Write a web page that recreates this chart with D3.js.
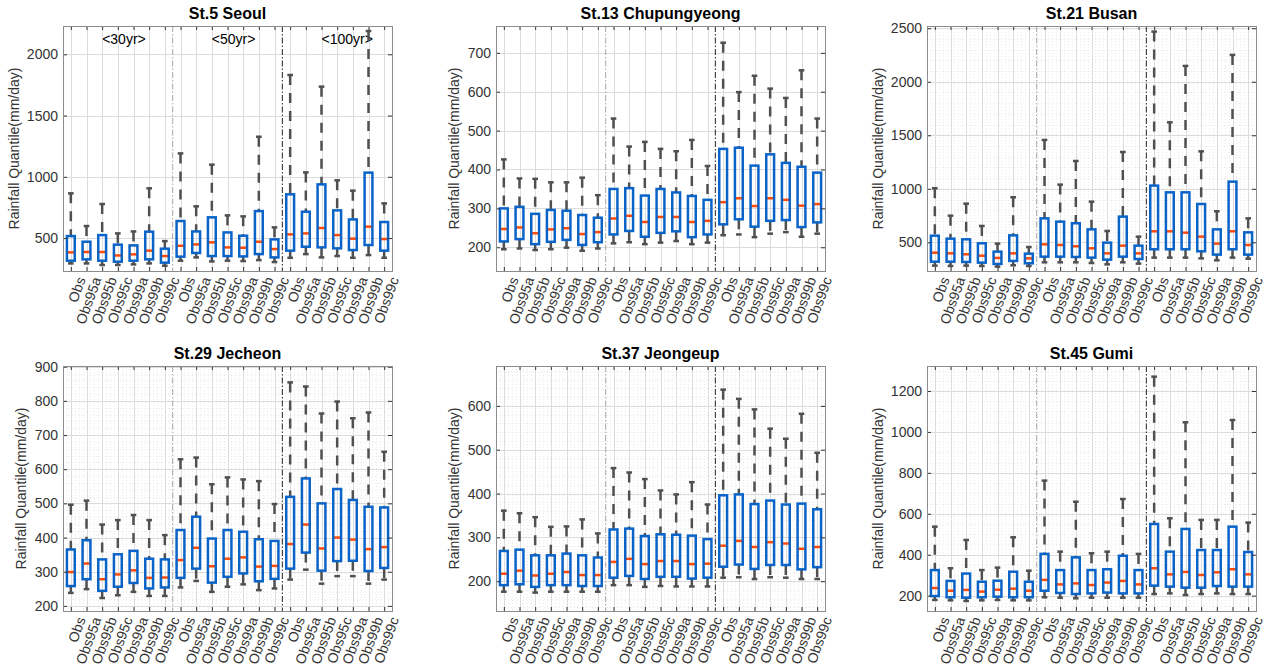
<!DOCTYPE html>
<html>
<head>
<meta charset="utf-8">
<script src="https://cdn.jsdelivr.net/npm/d3@7"></script>
<style>
  body { margin: 0; background: #fff; }
  svg { display: block; }
  text { font-family: "Liberation Sans", Arial, Helvetica, sans-serif; }
</style>
</head>
<body>
<svg id="chart" width="1266" height="670"></svg>
<script>
// Scenario labels (repeated for each return period) and return periods
const categories = ["Obs", "Obs95a", "Obs95b", "Obs95c", "Obs99a", "Obs99b", "Obs99c"];
const periods = ["<30yr>", "<50yr>", "<100yr>"];
const yLabel = "Rainfall Quantile(mm/day)";

// St.5 Seoul: lower whisker, Q1, median, Q3, upper whisker
const seoulLow  = [293, 293, 280, 280, 285, 293, 274, 315, 342, 309, 315, 312, 320, 304, 339, 369, 342, 353, 339, 361, 339];
const seoulQ1   = [315, 326, 315, 307, 315, 326, 299, 348, 378, 353, 353, 350, 369, 342, 397, 429, 424, 416, 402, 443, 397];
const seoulMed  = [383, 386, 386, 358, 367, 397, 353, 437, 448, 465, 424, 421, 470, 410, 530, 538, 582, 524, 495, 593, 492];
const seoulQ3   = [516, 470, 524, 446, 440, 552, 413, 639, 554, 669, 546, 519, 720, 489, 857, 715, 938, 726, 652, 1034, 631];
const seoulHigh = [865, 598, 778, 538, 554, 906, 475, 1191, 759, 1099, 685, 677, 1327, 587, 1831, 1036, 1736, 971, 887, 2190, 783];
const seoulTicks = [500, 1000, 1500, 2000];

// St.13 Chupungyeong
const chuLow  = [195, 197, 193, 195, 199, 191, 197, 210, 213, 208, 212, 216, 208, 212, 231, 233, 226, 235, 239, 227, 235];
const chuQ1   = [215, 221, 208, 214, 219, 206, 213, 233, 242, 227, 237, 241, 226, 233, 259, 272, 253, 268, 270, 252, 264];
const chuMed  = [247, 251, 236, 246, 249, 234, 239, 274, 281, 265, 278, 278, 265, 268, 316, 326, 306, 326, 322, 307, 311];
const chuQ3   = [300, 304, 286, 296, 294, 283, 276, 350, 352, 333, 350, 341, 332, 322, 453, 456, 410, 439, 417, 407, 392];
const chuHigh = [426, 377, 376, 367, 367, 379, 334, 531, 459, 471, 453, 447, 476, 409, 726, 599, 641, 608, 584, 655, 531];
const chuTicks = [200, 300, 400, 500, 600, 700];

// St.21 Busan
const busanLow  = [282, 279, 282, 279, 273, 285, 279, 313, 313, 313, 307, 294, 313, 301, 357, 357, 357, 350, 332, 357, 347];
const busanQ1   = [319, 319, 316, 310, 298, 326, 304, 366, 366, 363, 357, 338, 366, 344, 435, 435, 435, 416, 385, 435, 385];
const busanMed  = [403, 397, 388, 375, 354, 397, 350, 481, 475, 463, 444, 397, 469, 397, 603, 603, 590, 553, 488, 603, 475];
const busanQ3   = [562, 534, 528, 491, 413, 565, 394, 724, 693, 678, 621, 497, 740, 469, 1030, 967, 967, 858, 621, 1067, 593];
const busanHigh = [1005, 749, 861, 653, 488, 921, 456, 1456, 1039, 1260, 880, 606, 1344, 553, 2469, 1621, 2148, 1350, 790, 2251, 724];
const busanTicks = [500, 1000, 1500, 2000, 2500];

// St.29 Jecheon
const jecLow  = [238, 249, 223, 231, 241, 229, 229, 254, 273, 241, 256, 263, 246, 251, 277, 306, 265, 287, 287, 265, 277];
const jecQ1   = [258, 278, 244, 256, 267, 251, 254, 282, 309, 268, 285, 295, 272, 279, 309, 356, 303, 331, 332, 302, 311];
const jecMed  = [299, 324, 278, 292, 304, 282, 283, 334, 370, 316, 338, 342, 315, 317, 381, 438, 368, 400, 394, 366, 372];
const jecQ3   = [365, 392, 336, 351, 361, 338, 336, 422, 461, 397, 422, 417, 395, 390, 519, 573, 500, 542, 510, 490, 488];
const jecHigh = [496, 508, 438, 451, 466, 451, 407, 629, 634, 556, 576, 570, 565, 498, 854, 842, 763, 798, 749, 766, 651];
const jecTicks = [200, 300, 400, 500, 600, 700, 800, 900];

// St.37 Jeongeup
const jeoLow  = [176, 176, 174, 176, 176, 176, 176, 191, 191, 187, 189, 188, 188, 188, 208, 209, 205, 209, 208, 205, 205];
const jeoQ1   = [191, 193, 187, 191, 191, 189, 189, 208, 212, 205, 210, 210, 206, 208, 233, 238, 228, 237, 237, 227, 232];
const jeoMed  = [217, 224, 213, 217, 221, 214, 214, 244, 251, 239, 246, 246, 239, 240, 281, 292, 278, 289, 286, 274, 278];
const jeoQ3   = [269, 272, 259, 259, 263, 259, 254, 318, 320, 303, 307, 306, 304, 296, 396, 398, 376, 384, 375, 377, 364];
const jeoHigh = [361, 355, 346, 324, 325, 341, 309, 458, 448, 433, 407, 398, 426, 375, 637, 616, 592, 548, 525, 582, 493];
const jeoTicks = [200, 300, 400, 500, 600];

// St.45 Gumi
const gumiLow  = [179, 177, 174, 177, 179, 177, 177, 192, 190, 187, 190, 190, 190, 190, 208, 211, 203, 208, 211, 208, 208];
const gumiQ1   = [198, 192, 190, 192, 195, 192, 192, 224, 213, 208, 211, 215, 211, 211, 249, 244, 239, 239, 247, 244, 244];
const gumiMed  = [237, 224, 228, 220, 229, 234, 224, 277, 255, 260, 252, 264, 272, 255, 334, 304, 316, 301, 314, 329, 304];
const gumiQ3   = [325, 272, 308, 268, 273, 317, 268, 404, 325, 387, 325, 329, 395, 325, 550, 415, 526, 423, 423, 537, 413];
const gumiHigh = [537, 334, 472, 325, 337, 485, 322, 762, 415, 659, 407, 415, 672, 404, 1270, 578, 1047, 570, 570, 1058, 557];
const gumiTicks = [200, 400, 600, 800, 1000, 1200];

const panels = [
  { title: "St.5 Seoul", low: seoulLow, q1: seoulQ1, med: seoulMed, q3: seoulQ3, high: seoulHigh,
    ticks: seoulTicks, domain: [231, 2231], minor: null, groupText: true },
  { title: "St.13 Chupungyeong", low: chuLow, q1: chuQ1, med: chuMed, q3: chuQ3, high: chuHigh,
    ticks: chuTicks, domain: [139, 769], minor: null },
  { title: "St.21 Busan", low: busanLow, q1: busanQ1, med: busanMed, q3: busanQ3, high: busanHigh,
    ticks: busanTicks, domain: [232, 2521], minor: 100 },
  { title: "St.29 Jecheon", low: jecLow, q1: jecQ1, med: jecMed, q3: jecQ3, high: jecHigh,
    ticks: jecTicks, domain: [185, 902], minor: 20 },
  { title: "St.37 Jeongeup", low: jeoLow, q1: jeoQ1, med: jeoMed, q3: jeoQ3, high: jeoHigh,
    ticks: jeoTicks, domain: [132, 691], minor: 20 },
  { title: "St.45 Gumi", low: gumiLow, q1: gumiQ1, med: gumiMed, q3: gumiQ3, high: gumiHigh,
    ticks: gumiTicks, domain: [125, 1322], minor: 50 }
];

const svg = d3.select("#chart");
const colLeft = [63, 496, 927];
const rowTop = [26, 366];
const W = 329, H = 245;
const nBox = categories.length * periods.length;
const boxLabels = d3.range(nBox).map(i => categories[i % categories.length]);

const BLUE = "#0a64c8", RED = "#ff4a0a", WHISK = "#505050";

panels.forEach((p, pi) => {
  const left = colLeft[pi % 3], top = rowTop[Math.floor(pi / 3)];
  const g = svg.append("g").attr("transform", `translate(${left},${top})`);
  const x = d3.scaleLinear().domain([0.5, nBox + 0.5]).range([0, W]);
  const y = d3.scaleLinear().domain(p.domain).range([H, 0]);
  const unit = x(2) - x(1);

  // minor grid (dotted)
  if (p.minor) {
    const gm = g.append("g").attr("stroke", "#ebebeb").attr("stroke-width", 1).attr("stroke-dasharray", "1,2");
    const ym = d3.range(Math.ceil(p.domain[0] / p.minor) * p.minor, p.domain[1], p.minor)
      .filter(v => !p.ticks.includes(v));
    gm.selectAll("line.my").data(ym).join("line")
      .attr("x1", 0).attr("x2", W).attr("y1", d => Math.round(y(d)) + 0.5).attr("y2", d => Math.round(y(d)) + 0.5);
    const xm = d3.range(0.75, nBox + 0.5, 0.25).filter(v => Math.abs(v - Math.round(v)) > 1e-6);
    gm.selectAll("line.mx").data(xm).join("line")
      .attr("y1", 0).attr("y2", H).attr("x1", d => Math.round(x(d)) + 0.5).attr("x2", d => Math.round(x(d)) + 0.5);
  }

  // major grid
  const gg = g.append("g").attr("stroke", "#dcdcdc").attr("stroke-width", 1);
  gg.selectAll("line.gy").data(p.ticks).join("line")
    .attr("x1", 0).attr("x2", W).attr("y1", d => Math.round(y(d)) + 0.5).attr("y2", d => Math.round(y(d)) + 0.5);
  gg.selectAll("line.gx").data(d3.range(1, nBox + 1)).join("line")
    .attr("y1", 0).attr("y2", H).attr("x1", d => Math.round(x(d)) + 0.5).attr("x2", d => Math.round(x(d)) + 0.5);

  // period separators
  [{ v: 7.5, c: "#a8a8a8" }, { v: 14.5, c: "#222" }].forEach(s => {
    g.append("line").attr("x1", x(s.v)).attr("x2", x(s.v)).attr("y1", 0).attr("y2", H)
      .attr("stroke", s.c).attr("stroke-width", 1).attr("stroke-dasharray", "6,2,1.5,2");
  });

  // period annotations
  if (p.groupText) {
    periods.forEach((t, k) => {
      g.append("text").attr("x", x(3 + 7 * k)).attr("y", y(2120)).attr("dy", "0.35em")
        .attr("font-size", 14).attr("fill", "#000").text(t);
    });
  }

  // boxes
  const idx = d3.range(nBox);
  const bw = 0.5 * unit, cw = 0.36 * unit;
  const gb = g.append("g");
  // upper whiskers
  gb.selectAll("line.wu").data(idx).join("line")
    .attr("x1", i => x(i + 1)).attr("x2", i => x(i + 1))
    .attr("y1", i => y(p.high[i])).attr("y2", i => y(p.q3[i]))
    .attr("stroke", WHISK).attr("stroke-width", 2.5).attr("stroke-dasharray", "10,8");
  // lower whiskers
  gb.selectAll("line.wl").data(idx).join("line")
    .attr("x1", i => x(i + 1)).attr("x2", i => x(i + 1))
    .attr("y1", i => y(p.q1[i])).attr("y2", i => y(p.low[i]))
    .attr("stroke", WHISK).attr("stroke-width", 2.5).attr("stroke-dasharray", "10,8");
  // caps
  gb.selectAll("line.cu").data(idx).join("line")
    .attr("x1", i => x(i + 1) - cw / 2).attr("x2", i => x(i + 1) + cw / 2)
    .attr("y1", i => y(p.high[i])).attr("y2", i => y(p.high[i]))
    .attr("stroke", WHISK).attr("stroke-width", 2.5);
  gb.selectAll("line.cl").data(idx).join("line")
    .attr("x1", i => x(i + 1) - cw / 2).attr("x2", i => x(i + 1) + cw / 2)
    .attr("y1", i => y(p.low[i])).attr("y2", i => y(p.low[i]))
    .attr("stroke", WHISK).attr("stroke-width", 2.5);
  // medians
  gb.selectAll("line.md").data(idx).join("line")
    .attr("x1", i => x(i + 1) - bw / 2).attr("x2", i => x(i + 1) + bw / 2)
    .attr("y1", i => y(p.med[i])).attr("y2", i => y(p.med[i]))
    .attr("stroke", RED).attr("stroke-width", 2.5);
  // interquartile boxes
  gb.selectAll("rect.bx").data(idx).join("rect")
    .attr("x", i => x(i + 1) - bw / 2).attr("width", bw)
    .attr("y", i => y(p.q3[i])).attr("height", i => y(p.q1[i]) - y(p.q3[i]))
    .attr("fill", "none").attr("stroke", BLUE).attr("stroke-width", 2.5);

  // axes (ticks inward on all four sides)
  const axL = g.append("g").call(d3.axisLeft(y).tickValues(p.ticks).tickSize(-4).tickPadding(5).tickFormat(d3.format("d")));
  const axR = g.append("g").attr("transform", `translate(${W},0)`)
    .call(d3.axisRight(y).tickValues(p.ticks).tickSize(-4).tickFormat(""));
  const axB = g.append("g").attr("transform", `translate(0,${H})`)
    .call(d3.axisBottom(x).tickValues(d3.range(1, nBox + 1)).tickSize(-4).tickFormat(i => boxLabels[i - 1]));
  const axT = g.append("g")
    .call(d3.axisTop(x).tickValues(d3.range(1, nBox + 1)).tickSize(-4).tickFormat(""));
  [axL, axR, axB, axT].forEach(a => {
    a.select(".domain").remove();
    a.selectAll(".tick line").attr("stroke", "#333");
    a.selectAll("text").attr("font-size", 14).attr("fill", "#333")
      .attr("font-family", "'Liberation Sans', Arial, Helvetica, sans-serif");
  });
  axB.selectAll(".tick text")
    .attr("y", null).attr("dy", null)
    .attr("text-anchor", "end").attr("dominant-baseline", "middle")
    .attr("transform", "translate(11,7) rotate(-70)");

  // frame
  g.append("rect").attr("x", 0.5).attr("y", 0.5).attr("width", W).attr("height", H)
    .attr("fill", "none").attr("stroke", "#8c8c8c").attr("stroke-width", 1);

  // title
  g.append("text").attr("x", W / 2).attr("y", -7).attr("text-anchor", "middle")
    .attr("font-size", 16).attr("font-weight", "bold").attr("fill", "#000").text(p.title);

  // y label, placed left of the widest tick label
  let maxW = 0;
  axL.selectAll(".tick text").each(function () { maxW = Math.max(maxW, this.getBBox().width); });
  const lx = -(5 + maxW + 13);
  g.append("text").attr("transform", `translate(${lx},${H / 2}) rotate(-90)`)
    .attr("text-anchor", "middle").attr("dy", "0.35em")
    .attr("font-size", 14).attr("fill", "#333").text(yLabel);
});
</script>
</body>
</html>
